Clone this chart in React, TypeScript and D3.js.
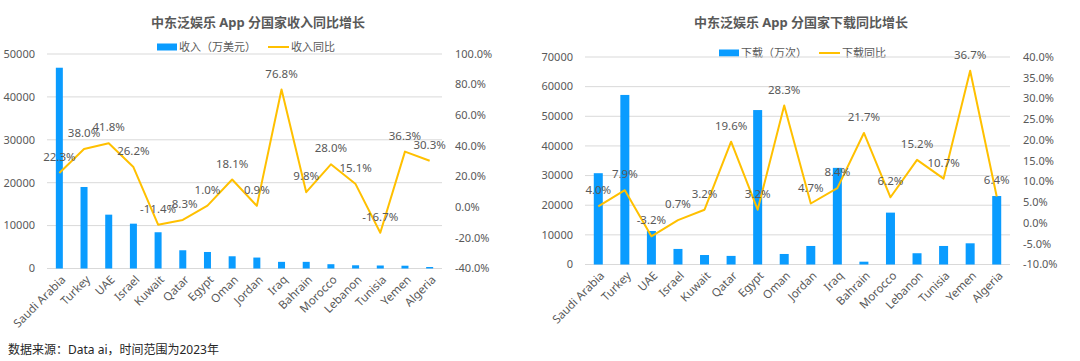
import React from 'react';
import * as d3 from 'd3';

const countries = ['Saudi Arabia', 'Turkey', 'UAE', 'Israel', 'Kuwait', 'Qatar', 'Egypt', 'Oman', 'Jordan', 'Iraq', 'Bahrain', 'Morocco', 'Lebanon', 'Tunisia', 'Yemen', 'Algeria'];

// 收入（万美元）and 收入同比 (%)
const revenue = [46800, 19000, 12550, 10450, 8450, 4250, 3850, 2850, 2550, 1550, 1550, 1000, 750, 700, 650, 350];
const revenueYoY = [22.3, 38.0, 41.8, 26.2, -11.4, -8.3, 1.0, 18.1, 0.9, 76.8, 9.8, 28.0, 15.1, -16.7, 36.3, 30.3];

// 下载（万次）and 下载同比 (%)
const downloads = [30800, 57200, 11300, 5250, 3200, 2900, 52100, 3550, 6250, 32600, 950, 17500, 3800, 6250, 7150, 23100];
const downloadYoY = [4.0, 7.9, -3.2, 0.7, 3.2, 19.6, 3.2, 28.3, 4.7, 8.4, 21.7, 6.2, 15.2, 10.7, 36.7, 6.4];

const revTicks = [0, 10000, 20000, 30000, 40000, 50000];
const revPctTicks = [-40, -20, 0, 20, 40, 60, 80, 100];
const dlTicks = [0, 10000, 20000, 30000, 40000, 50000, 60000, 70000];
const dlPctTicks = [-10, -5, 0, 5, 10, 15, 20, 25, 30, 35, 40];

const BLUE = '#0a9cff';
const GOLD = '#ffc000';
const GRID = '#d9d9d9';
const TXT = '#595959';
const FONT = '"Noto Sans", "Noto Sans CJK SC", sans-serif';

interface ChartProps {
  title: string;
  titleX: number;
  barName: string;
  lineName: string;
  legendX: number;
  legendY: number;
  bars: number[];
  pct: number[];
  ticks: number[];
  pctTicks: number[];
  x0: number;
  x1: number;
  yTop: number;
  yBottom: number;
  barW: number;
}

const Chart: React.FC<ChartProps> = (p) => {
  const x = d3.scaleBand<string>().domain(countries).range([p.x0, p.x1]);
  const y = d3.scaleLinear()
    .domain([0, p.ticks[p.ticks.length - 1]])
    .range([p.yBottom, p.yTop]);
  const y2 = d3.scaleLinear()
    .domain([p.pctTicks[0], p.pctTicks[p.pctTicks.length - 1]])
    .range([p.yBottom, p.yTop]);
  const cx = (c: string) => (x(c) || 0) + x.bandwidth() / 2;

  const line = d3.line<number>()
    .x((_, i) => cx(countries[i]))
    .y(d => y2(d));

  const barLabelW = p.barName.length * 11 + 2;

  return (
    <g fontFamily={FONT}>
      <text x={p.titleX} y={27} textAnchor="middle" fontSize={13} fontWeight="bold" fill={TXT}>{p.title}</text>

      {/* legend */}
      <g transform={`translate(${p.legendX}, ${p.legendY})`}>
        <rect x={0} y={-3.5} width={20} height={7} fill={BLUE} />
        <text x={22} y={0} dy="0.35em" fontSize={11} fill={TXT}>{p.barName}</text>
        <line x1={22 + barLabelW + 10} x2={22 + barLabelW + 31} y1={0} y2={0} stroke={GOLD} strokeWidth={2} />
        <text x={22 + barLabelW + 33} y={0} dy="0.35em" fontSize={11} fill={TXT}>{p.lineName}</text>
      </g>

      {/* grid + left axis */}
      {p.ticks.map(t => (
        <g key={t}>
          <line x1={p.x0} x2={p.x1} y1={y(t)} y2={y(t)} stroke={GRID} strokeWidth={1} />
          <text x={p.x0 - 12} y={y(t)} dy="0.35em" textAnchor="end" fontSize={11} fill={TXT}>{t}</text>
        </g>
      ))}

      {/* right axis */}
      {p.pctTicks.map(t => (
        <text key={t} x={p.x1 + 13} y={y2(t)} dy="0.35em" fontSize={11} fill={TXT}>{t.toFixed(1) + '%'}</text>
      ))}

      {/* bars */}
      {p.bars.map((v, i) => (
        <rect key={countries[i]} x={cx(countries[i]) - p.barW / 2} y={y(v)} width={p.barW} height={p.yBottom - y(v)} fill={BLUE} />
      ))}

      {/* category labels */}
      {countries.map(c => (
        <text key={c} transform={`translate(${cx(c) + 4}, ${p.yBottom + 9}) rotate(-45)`} textAnchor="end" dy="0.35em" fontSize={11.5} fill={TXT}>{c}</text>
      ))}

      {/* yoy line */}
      <path d={line(p.pct) || ''} fill="none" stroke={GOLD} strokeWidth={2} strokeLinejoin="round" />
      {p.pct.map((v, i) => (
        <text key={countries[i]} x={cx(countries[i])} y={y2(v) - 16} dy="0.35em" textAnchor="middle" fontSize={11.5} fill={TXT}>{v.toFixed(1) + '%'}</text>
      ))}
    </g>
  );
};

const App: React.FC = () => {
  return (
    <div style={{ position: 'absolute', left: 0, top: 0, width: 1080, height: 361, background: '#fff' }}>
      <svg width={1080} height={361} style={{ display: 'block' }}>
        <Chart
          title="中东泛娱乐 App 分国家收入同比增长"
          titleX={258}
          barName="收入（万美元）"
          lineName="收入同比"
          legendX={157}
          legendY={47}
          bars={revenue}
          pct={revenueYoY}
          ticks={revTicks}
          pctTicks={revPctTicks}
          x0={47}
          x1={442}
          yTop={54}
          yBottom={268.5}
          barW={7}
        />
        <Chart
          title="中东泛娱乐 App 分国家下载同比增长"
          titleX={801}
          barName="下载（万次）"
          lineName="下载同比"
          legendX={719}
          legendY={53}
          bars={downloads}
          pct={downloadYoY}
          ticks={dlTicks}
          pctTicks={dlPctTicks}
          x0={585}
          x1={1010}
          yTop={57}
          yBottom={264.5}
          barW={9}
        />
        <text x={8} y={354} fontFamily={FONT} fontSize={12} fill="#262626">数据来源：Data ai，时间范围为2023年</text>
      </svg>
    </div>
  );
};

export default App;
